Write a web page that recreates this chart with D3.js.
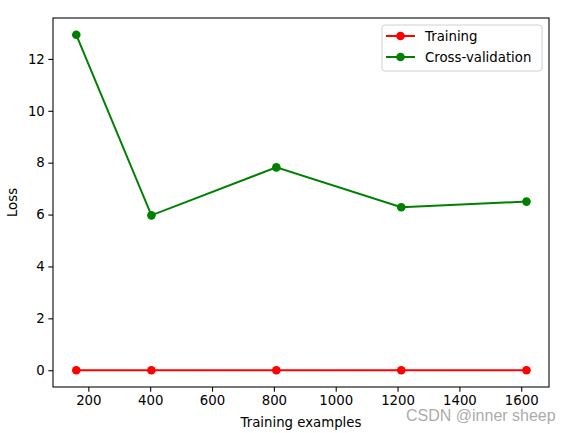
<!DOCTYPE html>
<html>
<head>
<script src="https://d3js.org/d3.v7.min.js"></script>
<style>
  body { margin: 0; background: #fff; }
  svg text { font-family: "DejaVu Sans", sans-serif; }
</style>
</head>
<body>
<div id="chart"></div>
<script>
// learning curve data
var trainSizes = [161, 404, 808, 1212, 1617];
var trainLoss = [0, 0, 0, 0, 0];
var cvLoss = [12.93, 5.97, 7.82, 6.28, 6.5];
var xTicks = [200, 400, 600, 800, 1000, 1200, 1400, 1600];
var yTicks = [0, 2, 4, 6, 8, 10, 12];

var width = 570, height = 433;
var margin = {top: 18, right: 21, bottom: 46, left: 53};

var svg = d3.select("#chart").append("svg")
    .attr("width", width)
    .attr("height", height);

// matplotlib-like 5% padding
var xPad = (d3.max(trainSizes) - d3.min(trainSizes)) * 0.05;
var x = d3.scaleLinear()
    .domain([d3.min(trainSizes) - xPad - 2.5, d3.max(trainSizes) + xPad])
    .range([margin.left, width - margin.right]);

var yMax = d3.max(cvLoss), yPad = yMax * 0.05;
var y = d3.scaleLinear()
    .domain([-yPad, yMax + yPad])
    .range([height - margin.bottom, margin.top]);

// axes
var xAxis = svg.append("g")
    .attr("transform", `translate(0,${height - margin.bottom})`)
    .call(d3.axisBottom(x).tickValues(xTicks).tickFormat(d3.format("d"))
      .tickSizeOuter(0).tickSize(4.7).tickPadding(3.5));
var yAxis = svg.append("g")
    .attr("transform", `translate(${margin.left},0)`)
    .call(d3.axisLeft(y).tickValues(yTicks).tickFormat(d3.format("d"))
      .tickSizeOuter(0).tickSize(4.7).tickPadding(3.5));

[xAxis, yAxis].forEach(g => {
  g.selectAll("text").attr("font-size", "13.3px").attr("fill", "#000")
    .attr("font-family", "DejaVu Sans, sans-serif");
  g.selectAll("line").attr("stroke", "#000").attr("stroke-width", 1.07);
  g.select(".domain").remove();
});

// frame
svg.append("rect")
    .attr("x", margin.left).attr("y", margin.top)
    .attr("width", width - margin.right - margin.left)
    .attr("height", height - margin.bottom - margin.top)
    .attr("fill", "none").attr("stroke", "#000").attr("stroke-width", 1.07);

var line = d3.line().x((d, i) => x(trainSizes[i])).y(d => y(d));

var series = [
  {name: "Training", values: trainLoss, color: "#ff0000"},
  {name: "Cross-validation", values: cvLoss, color: "#008000"}
];

series.forEach(s => {
  svg.append("path")
      .attr("d", line(s.values))
      .attr("fill", "none")
      .attr("stroke", s.color)
      .attr("stroke-width", 2);
  svg.append("g").selectAll("circle")
      .data(s.values)
      .enter().append("circle")
      .attr("cx", (d, i) => x(trainSizes[i]))
      .attr("cy", d => y(d))
      .attr("r", 4.3)
      .attr("fill", s.color);
});

// axis labels
svg.append("text")
    .attr("x", (margin.left + width - margin.right) / 2)
    .attr("y", 427)
    .attr("text-anchor", "middle")
    .attr("font-size", "13.3px")
    .text("Training examples");

svg.append("text")
    .attr("transform", `translate(17,${(margin.top + height - margin.bottom) / 2}) rotate(-90)`)
    .attr("text-anchor", "middle")
    .attr("font-size", "13.3px")
    .text("Loss");

// legend
var legend = svg.append("g").attr("transform", "translate(382,25)");
legend.append("rect")
    .attr("width", 160).attr("height", 46)
    .attr("rx", 3)
    .attr("fill", "#fff").attr("fill-opacity", 0.8)
    .attr("stroke", "#d0d0d0").attr("stroke-width", 1);
series.forEach((s, i) => {
  var row = legend.append("g").attr("transform", `translate(0,${11 + i * 21})`);
  row.append("line").attr("x1", 4).attr("x2", 33)
      .attr("stroke", s.color).attr("stroke-width", 2);
  row.append("circle").attr("cx", 18.5).attr("r", 4.3).attr("fill", s.color);
  row.append("text").attr("x", 43).attr("dy", "0.35em")
      .attr("font-size", "13.3px").text(s.name);
});

// watermark
svg.append("text")
    .attr("x", 406).attr("y", 421)
    .style("font-family", "'Liberation Sans', Arial, sans-serif")
    .attr("font-size", "16px")
    .attr("fill", "#a0a0a0")
    .attr("fill-opacity", 0.9)
    .text("CSDN @inner sheep");
</script>
</body>
</html>
